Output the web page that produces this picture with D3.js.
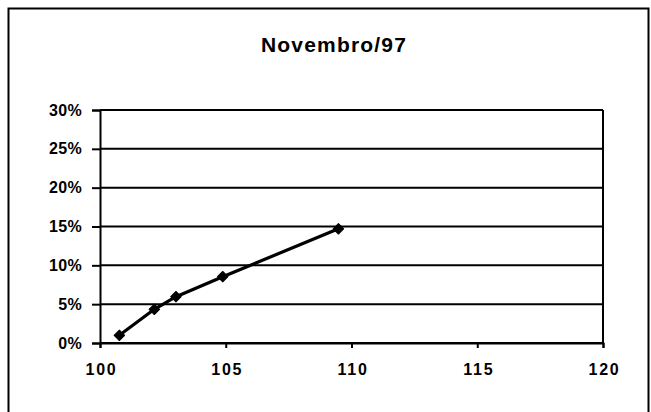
<!DOCTYPE html>
<html>
<head>
<meta charset="utf-8">
<script src="https://cdn.jsdelivr.net/npm/d3@7"></script>
<style>
  html, body { margin: 0; padding: 0; background: #fff; }
  svg { display: block; font-family: Arial, "Liberation Sans", sans-serif; }
</style>
</head>
<body>
<svg id="chart" width="651" height="412"></svg>
<script>
// Series: index level (x) against cumulative percentage (y)
const title = "Novembro/97";
const xValues = [100.77, 102.16, 103.02, 104.88, 109.48];
const yValues = [0.0099, 0.0434, 0.0596, 0.0854, 0.147];
const xTicks = [100, 105, 110, 115, 120];
const yTicks = [0, 0.05, 0.10, 0.15, 0.20, 0.25, 0.30];

const points = xValues.map((x, i) => ({ x, y: yValues[i] }));

const svg = d3.select("#chart");
const plot = { left: 100, right: 603, top: 110, bottom: 343 };

// Outer chart frame
svg.append("rect")
  .attr("x", 8.5).attr("y", 8.5)
  .attr("width", 640).attr("height", 420)
  .attr("fill", "#fff").attr("stroke", "#000").attr("stroke-width", 2);

svg.append("text")
  .attr("x", 334).attr("y", 52)
  .attr("text-anchor", "middle")
  .attr("font-size", 21).attr("font-weight", "bold")
  .attr("letter-spacing", "1.2px")
  .text(title);

const x = d3.scaleLinear().domain([100, 120]).range([plot.left, plot.right]);
const y = d3.scaleLinear().domain([0, 0.30]).range([plot.bottom, plot.top]);

// Horizontal gridlines
svg.append("g")
  .selectAll("line")
  .data(yTicks)
  .join("line")
  .attr("x1", plot.left).attr("x2", plot.right)
  .attr("y1", d => y(d)).attr("y2", d => y(d))
  .attr("stroke", "#000").attr("stroke-width", 2);

// Right edge of the plot area
svg.append("line")
  .attr("x1", plot.right).attr("x2", plot.right)
  .attr("y1", plot.top).attr("y2", plot.bottom)
  .attr("stroke", "#000").attr("stroke-width", 2);

// Y axis
const yAxis = svg.append("g")
  .attr("transform", `translate(${plot.left},0)`)
  .call(d3.axisLeft(y).tickValues(yTicks).tickFormat(d3.format(".0%")).tickSize(8).tickPadding(10));
yAxis.select(".domain").attr("stroke-width", 2);
yAxis.selectAll(".tick line").attr("stroke-width", 2);
yAxis.selectAll(".tick text")
  .attr("font-size", 16).attr("font-weight", "bold")
  .attr("font-family", "Arial, 'Liberation Sans', sans-serif")
  .attr("letter-spacing", "0.3px")
  .attr("fill", "#000");

// X axis
const xAxis = svg.append("g")
  .attr("transform", `translate(0,${plot.bottom})`)
  .call(d3.axisBottom(x).tickValues(xTicks).tickFormat(d3.format("d")).tickSize(5).tickPadding(16));
xAxis.select(".domain").attr("stroke-width", 2);
xAxis.selectAll(".tick line").attr("stroke-width", 2);
xAxis.selectAll(".tick text")
  .attr("font-size", 16).attr("font-weight", "bold")
  .attr("font-family", "Arial, 'Liberation Sans', sans-serif")
  .attr("letter-spacing", "1.8px")
  .attr("dx", "1px")
  .attr("fill", "#000");

// Series line
svg.append("path")
  .datum(points)
  .attr("fill", "none")
  .attr("stroke", "#000")
  .attr("stroke-width", 3.2)
  .attr("stroke-linejoin", "round")
  .attr("d", d3.line().x(d => x(d.x)).y(d => y(d.y)));

// Diamond markers
svg.append("g")
  .selectAll("path")
  .data(points)
  .join("path")
  .attr("transform", d => `translate(${x(d.x)},${y(d.y)}) rotate(45)`)
  .attr("d", d3.symbol().type(d3.symbolSquare).size(55))
  .attr("fill", "#000")
  .attr("stroke", "#000")
  .attr("stroke-width", 1)
  .attr("stroke-linejoin", "round");
</script>
</body>
</html>
